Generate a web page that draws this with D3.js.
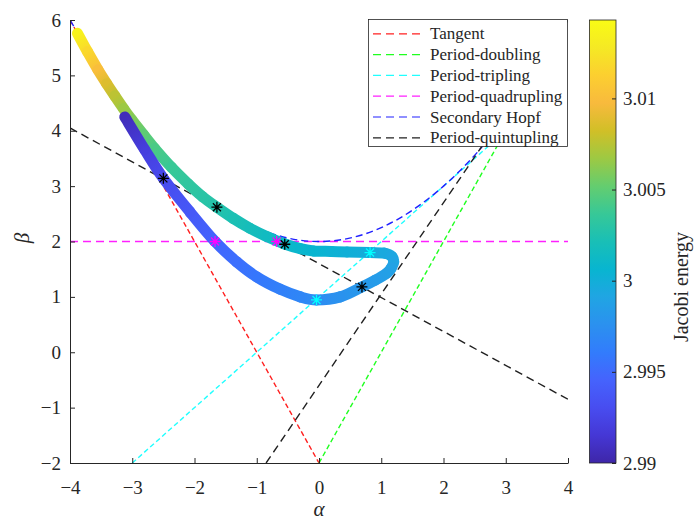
<!DOCTYPE html>
<html>
<head>
<meta charset="utf-8">
<script src="https://cdn.jsdelivr.net/npm/d3@7"></script>
<style>
body { margin: 0; background: #fff; }
</style>
</head>
<body>
<script>
'use strict'

// continuation branch (upper branch first, then lower)
const alphaPts = [-3.88, -3.72, -3.55, -3.41, -3.28, -3.14, -3.01, -2.82, -2.64, -2.37, -2.10, -1.87, -1.64, -1.38, -1.11, -0.84, -0.55, -0.30, -0.09, 0.20, 0.45, 0.82, 1.05, 1.17, 1.20, 1.16, 1.09, 0.90, 0.69, 0.34, -0.04, -0.30, -0.63, -1.00, -1.32, -1.67, -2.07, -2.50, -2.80, -3.12]
const betaPts = [5.76, 5.43, 5.10, 4.85, 4.63, 4.40, 4.20, 3.93, 3.68, 3.34, 3.04, 2.81, 2.62, 2.42, 2.24, 2.09, 1.955, 1.87, 1.83, 1.82, 1.81, 1.80, 1.79, 1.73, 1.63, 1.52, 1.43, 1.30, 1.18, 1.00, 0.945, 1.00, 1.14, 1.36, 1.63, 2.00, 2.53, 3.14, 3.66, 4.25]
const jacobiPts = [3.0136, 3.0118, 3.0100, 3.0087, 3.0076, 3.0067, 3.0060, 3.0050, 3.0043, 3.0037, 3.0033, 3.0030, 3.0027, 3.0023, 3.0019, 3.0015, 3.0011, 3.0008, 3.0006, 3.0003, 3.0001, 2.9998, 2.9995, 2.9993, 2.9991, 2.9989, 2.9987, 2.9984, 2.9981, 2.9977, 2.9972, 2.9968, 2.9964, 2.9958, 2.9953, 2.9947, 2.9938, 2.9929, 2.9920, 2.9906]

// bifurcation points
const blackStarAlpha = [-2.50, -1.64, -0.55, 0.69]
const blackStarBeta = [3.14, 2.62, 1.95, 1.18]
const magentaStarAlpha = [-1.67, -0.68]
const magentaStarBeta = [2.00, 2.00]
const cyanStarAlpha = [-0.04, 0.82]
const cyanStarBeta = [0.945, 1.80]

// bifurcation curves
const tangentAlpha = [-4, 0], tangentBeta = [6, -2]
const doublingAlpha = [0, 4], doublingBeta = [-2, 6]
const triplingAlpha = [-3, 4], triplingBeta = [-2, 5]
const quadAlpha = [-4, 4], quadBeta = [2, 2]
const hopfAlpha = [-4, -3, -2, -1, 0, 1, 2, 3, 4]
const hopfBeta = [6, 4.25, 3, 2.25, 2, 2.25, 3, 4.25, 6]
const quintAlpha1 = [-4, 4], quintBeta1 = [4.05, -0.85]
const quintAlpha2 = [-0.85, 4], quintBeta2 = [-2, 6]

const legendNames = ['Tangent', 'Period-doubling', 'Period-tripling', 'Period-quadrupling', 'Secondary Hopf', 'Period-quintupling']
const legendColors = ['#ff2020', '#20ff20', '#20ffff', '#ff20ff', '#2020ff', '#202020']

const xTicks = [-4, -3, -2, -1, 0, 1, 2, 3, 4]
const yTicks = [-2, -1, 0, 1, 2, 3, 4, 5, 6]
const cbTicks = [2.99, 2.995, 3, 3.005, 3.01]
const cbLabels = ['2.99', '2.995', '3', '3.005', '3.01']
const jacobiRange = [2.99, 3.0143]

// parula colormap
const parula = ['#3e26a8', '#4537d5', '#484df0', '#4563fd', '#327cfc', '#2b91ef', '#20a5e3', '#08b5d0',
    '#19bfb6', '#37c897', '#64cd6f', '#9dc943', '#d1bf27', '#f8ba3d', '#fccf30', '#f5e924', '#f9fb15']

let serif = "'Liberation Serif', 'Times New Roman', Times, serif"

let width = 694,
    height = 520,
    plotL = 70, plotR = 568, plotT = 20, plotB = 463

let svg = d3.select('body').append('svg')
    .attr('width', width)
    .attr('height', height)
    .style('font-family', serif)

let x = d3.scaleLinear().domain([-4, 4]).range([plotL, plotR])
let y = d3.scaleLinear().domain([-2, 6]).range([plotB, plotT])

let paraT = d3.scaleLinear()
    .domain(parula.map((c, i) => i / (parula.length - 1)))
    .range(parula)
    .interpolate(d3.interpolateRgb)
let color = j => paraT((j - jacobiRange[0]) / (jacobiRange[1] - jacobiRange[0]))

let defs = svg.append('defs')
defs.append('clipPath').attr('id', 'plotClip')
    .append('rect')
    .attr('x', plotL).attr('y', plotT)
    .attr('width', plotR - plotL).attr('height', plotB - plotT)

let line = d3.line().x(d => x(d[0])).y(d => y(d[1]))
let zip = (a, b) => a.map((v, i) => [v, b[i]])

let bifLines = [
    {color: legendColors[0], dash: '5,3', pts: zip(tangentAlpha, tangentBeta)},
    {color: legendColors[1], dash: '5,3', pts: zip(doublingAlpha, doublingBeta)},
    {color: legendColors[2], dash: '5,3', pts: zip(triplingAlpha, triplingBeta)},
    {color: legendColors[3], dash: '8,5', pts: zip(quadAlpha, quadBeta)},
    {color: legendColors[4], dash: '7,4', pts: zip(hopfAlpha, hopfBeta), curve: true},
    {color: legendColors[5], dash: '8,5', pts: zip(quintAlpha1, quintBeta1)},
    {color: legendColors[5], dash: '8,5', pts: zip(quintAlpha2, quintBeta2)}
]

let plot = svg.append('g').attr('clip-path', 'url(#plotClip)')

plot.selectAll('.bif').data(bifLines).enter()
    .append('path')
    .attr('class', 'bif')
    .attr('d', d => d.curve ? line.curve(d3.curveNatural)(d.pts) : line.curve(d3.curveLinear)(d.pts))
    .attr('fill', 'none')
    .attr('stroke', d => d.color)
    .attr('stroke-width', 1.4)
    .attr('stroke-dasharray', d => d.dash)

// continuation branch, coloured by Jacobi energy (one smooth piece per interval)
let pts = alphaPts.map((a, i) => [x(a), y(betaPts[i]), jacobiPts[i]])
let n = pts.length
let piece = i => {
    let p0 = pts[Math.max(i - 1, 0)], p1 = pts[i], p2 = pts[i + 1], p3 = pts[Math.min(i + 2, n - 1)]
    let c1 = [p1[0] + (p2[0] - p0[0]) / 6, p1[1] + (p2[1] - p0[1]) / 6]
    let c2 = [p2[0] - (p3[0] - p1[0]) / 6, p2[1] - (p3[1] - p1[1]) / 6]
    return 'M' + p1[0] + ',' + p1[1] + 'C' + c1 + ' ' + c2 + ' ' + p2[0] + ',' + p2[1]
}
for (let i = 0; i < n - 1; i++) {
    let g = defs.append('linearGradient')
        .attr('id', 'seg' + i)
        .attr('gradientUnits', 'userSpaceOnUse')
        .attr('x1', pts[i][0]).attr('y1', pts[i][1])
        .attr('x2', pts[i + 1][0]).attr('y2', pts[i + 1][1])
    g.append('stop').attr('offset', 0).attr('stop-color', color(pts[i][2]))
    g.append('stop').attr('offset', 1).attr('stop-color', color(pts[i + 1][2]))
    plot.append('path')
        .attr('d', piece(i))
        .attr('stroke', 'url(#seg' + i + ')')
        .attr('stroke-width', 11)
        .attr('stroke-linecap', 'round')
        .attr('fill', 'none')
}

let star = 'M-5.5,0H5.5M0,-5.5V5.5M-4,-4L4,4M-4,4L4,-4'
let stars = [
    {c: '#ff00ff', p: zip(magentaStarAlpha, magentaStarBeta)},
    {c: '#00ffff', p: zip(cyanStarAlpha, cyanStarBeta)},
    {c: '#000000', p: zip(blackStarAlpha, blackStarBeta)}
]
stars.forEach(s => {
    plot.selectAll(null).data(s.p).enter()
        .append('path')
        .attr('d', star)
        .attr('transform', d => 'translate(' + x(d[0]) + ',' + y(d[1]) + ')')
        .attr('stroke', s.c)
        .attr('stroke-width', 1.3)
        .attr('fill', 'none')
})

// axes
let xAxis = svg.append('g')
    .attr('transform', 'translate(0,' + plotB + ')')
    .call(d3.axisBottom(x).tickValues(xTicks).tickSize(-5).tickSizeOuter(0).tickPadding(18))
let yAxis = svg.append('g')
    .attr('transform', 'translate(' + plotL + ',0)')
    .call(d3.axisLeft(y).tickValues(yTicks).tickSize(-5).tickSizeOuter(0).tickPadding(9))
;[xAxis, yAxis].forEach(ax => {
    ax.attr('font-family', null).attr('font-size', null)
    ax.select('.domain').attr('stroke', '#262626')
    ax.selectAll('.tick line').attr('stroke', '#262626')
    ax.selectAll('.tick text')
        .style('font-family', serif)
        .style('font-size', '19px')
        .attr('fill', '#262626')
})

svg.append('text')
    .attr('x', (plotL + plotR) / 2)
    .attr('y', 516)
    .attr('text-anchor', 'middle')
    .attr('fill', '#262626')
    .style('font-family', serif)
    .style('font-size', '21px')
    .style('font-style', 'italic')
    .text('α')

svg.append('text')
    .attr('transform', 'translate(29,238) rotate(-90)')
    .attr('text-anchor', 'middle')
    .attr('fill', '#262626')
    .style('font-family', serif)
    .style('font-size', '21px')
    .style('font-style', 'italic')
    .text('β')

// legend
let legend = svg.append('g')
legend.append('rect')
    .attr('x', 368.5).attr('y', 19.5)
    .attr('width', 199).attr('height', 127)
    .attr('fill', '#fff')
    .attr('stroke', '#262626')
    .attr('stroke-width', 0.8)
let rows = legend.selectAll('.row').data(legendNames).enter()
    .append('g')
    .attr('class', 'row')
    .attr('transform', (d, i) => 'translate(0,' + (33.8 + i * 20.8) + ')')
rows.append('line')
    .attr('x1', 373).attr('x2', 422)
    .attr('stroke', (d, i) => legendColors[i])
    .attr('stroke-width', 1.2)
    .attr('stroke-dasharray', '8,5')
rows.append('text')
    .attr('x', 430)
    .attr('dy', '0.33em')
    .attr('fill', '#262626')
    .style('font-family', serif)
    .style('font-size', '17px')
    .text(d => d)

// colorbar
let cb = d3.scaleLinear().domain(jacobiRange).range([plotB, plotT])
let cbGrad = defs.append('linearGradient')
    .attr('id', 'cbGrad')
    .attr('x1', 0).attr('y1', 1).attr('x2', 0).attr('y2', 0)
parula.forEach((c, i) => {
    cbGrad.append('stop').attr('offset', i / (parula.length - 1)).attr('stop-color', c)
})
svg.append('rect')
    .attr('x', 589.5).attr('y', plotT)
    .attr('width', 26.5).attr('height', plotB - plotT)
    .attr('fill', 'url(#cbGrad)')
    .attr('stroke', '#262626')
    .attr('stroke-width', 0.8)
let cbAxis = svg.append('g')
    .attr('transform', 'translate(616,0)')
    .call(d3.axisRight(cb).tickValues(cbTicks).tickFormat((d, i) => cbLabels[i]).tickSize(-4).tickSizeOuter(0).tickPadding(7))
cbAxis.attr('font-family', null).attr('font-size', null)
cbAxis.select('.domain').remove()
cbAxis.selectAll('.tick line').attr('stroke', '#262626')
cbAxis.selectAll('.tick text')
    .style('font-family', serif)
    .style('font-size', '19px')
    .attr('fill', '#262626')

svg.append('text')
    .attr('transform', 'translate(688,287) rotate(-90)')
    .attr('text-anchor', 'middle')
    .attr('fill', '#262626')
    .style('font-family', serif)
    .style('font-size', '20px')
    .text('Jacobi energy')
</script>
</body>
</html>
